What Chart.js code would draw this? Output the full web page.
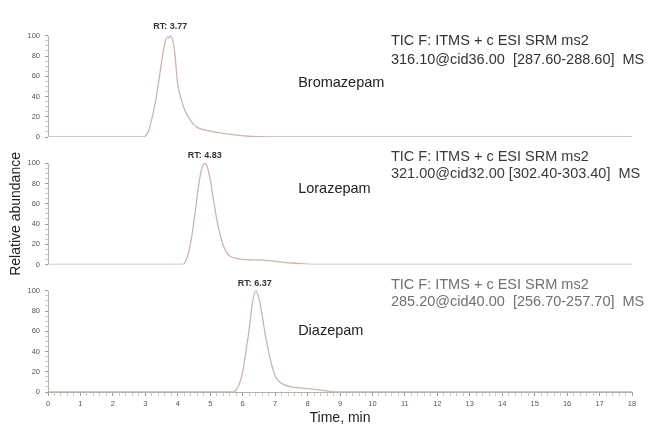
<!DOCTYPE html>
<html>
<head>
<meta charset="utf-8">
<script src="https://cdn.jsdelivr.net/npm/chart.js@4.4.1/dist/chart.umd.min.js"></script>
<style>
  body { margin: 0; background: #fff; }
  canvas { display: block; }
</style>
</head>
<body>
<canvas id="chrom" width="649" height="425"></canvas>
<script>
// chromatogram traces, time in minutes, relative abundance in %
const bromTime = [0, 2.9, 3.0, 3.1, 3.2, 3.3, 3.4, 3.5, 3.6, 3.68, 3.72, 3.77, 3.85, 3.9, 4.0, 4.1, 4.2, 4.3, 4.4, 4.5, 4.6, 4.7, 4.9, 5.2, 5.5, 5.8, 6.1, 6.5, 7.0, 18];
const bromAbund = [0, 0, 1, 6, 18, 33, 52, 74, 92, 99, 98, 100, 95, 85, 52, 38, 28, 21, 16, 12, 9.5, 8, 6.5, 4.5, 3, 2, 1, 0.3, 0, 0];

const loraTime = [0, 4.15, 4.25, 4.35, 4.45, 4.55, 4.65, 4.75, 4.83, 4.9, 5.0, 5.1, 5.2, 5.3, 5.4, 5.5, 5.6, 5.8, 6.0, 6.3, 6.6, 6.9, 7.2, 7.5, 7.8, 8.3, 18];
const loraAbund = [0, 0, 4, 14, 32, 55, 80, 96, 100, 97, 84, 64, 45, 30, 19, 12, 8.5, 6, 5, 4.6, 4.3, 3.5, 2.5, 1.5, 0.8, 0, 0];

const diazTime = [0, 5.7, 5.8, 5.9, 6.0, 6.1, 6.2, 6.3, 6.4, 6.5, 6.6, 6.7, 6.8, 6.9, 7.0, 7.1, 7.3, 7.5, 7.8, 8.1, 8.5, 9.0, 18];
const diazAbund = [0, 0, 2, 8, 20, 40, 62, 88, 100, 93, 76, 56, 40, 26, 16, 11, 7, 5, 4, 3, 1.5, 0, 0];

const compounds = ["Bromazepam", "Lorazepam", "Diazepam"];
const retentionTimes = [3.77, 4.83, 6.37];
const scanLine = "TIC F: ITMS + c ESI SRM ms2";
const transitions = [
  "316.10@cid36.00  [287.60-288.60]  MS",
  "321.00@cid32.00 [302.40-303.40]  MS",
  "285.20@cid40.00  [256.70-257.70]  MS",
];

const traceColor = "#cbb6ae";
const axisColor = "#b8b2ae";
const font = "'Liberation Sans', Arial, sans-serif";

// where the labels sit, in minutes / % of each panel
const panels = [
  { axis: "yTop", rtY: 109, nameY: 53, headY: [95, 76], headColor: "#333" },
  { axis: "yMid", rtY: 108, nameY: 75, headY: [106, 89], headColor: "#3a3a3a" },
  { axis: "yBot", rtY: 107, nameY: 60, headY: [106, 89], headColor: "#707070" },
];
const nameX = 7.71;
const headX = 10.57;

function toPoints(times, values) {
  return times.map((t, i) => ({ x: t, y: values[i] }));
}

function panelAxis(weight) {
  return {
    type: "linear",
    position: "left",
    stack: "panels",
    stackWeight: 1,
    weight: weight,
    min: 0,
    max: 126,
    border: { display: false },
    grid: {
      drawOnChartArea: false,
      drawTicks: true,
      tickLength: 3,
      tickColor: (c) => (c.tick && c.tick.value % 20 === 0 ? "#a09a96" : "#cfc9c6"),
    },
    ticks: {
      stepSize: 5,
      autoSkip: false,
      padding: 5,
      color: "#555",
      font: { family: font, size: 7.5 },
      callback: (v) => (v % 20 === 0 ? v : ""),
    },
    afterBuildTicks: (axis) => {
      axis.ticks = axis.ticks.filter((t) => t.value <= 100);
    },
    afterFit: (axis) => {
      axis.width = 48;
    },
  };
}

const labelPlugin = {
  id: "chromLabels",
  afterDraw(chart) {
    const ctx = chart.ctx;
    const xs = chart.scales.x;
    ctx.save();
    panels.forEach((p, i) => {
      const ys = chart.scales[p.axis];
      // axis line only over 0-100
      ctx.strokeStyle = axisColor;
      ctx.lineWidth = 1;
      ctx.beginPath();
      ctx.moveTo(ys.right + 0.5, ys.getPixelForValue(0));
      ctx.lineTo(ys.right + 0.5, ys.getPixelForValue(100));
      ctx.stroke();

      ctx.textBaseline = "middle";
      ctx.textAlign = "center";
      ctx.fillStyle = "#333";
      ctx.font = "bold 9px " + font;
      ctx.fillText("RT: " + retentionTimes[i].toFixed(2), xs.getPixelForValue(retentionTimes[i]), ys.getPixelForValue(p.rtY));

      ctx.textAlign = "left";
      ctx.fillStyle = "#222";
      ctx.font = "14.5px " + font;
      ctx.fillText(compounds[i], xs.getPixelForValue(nameX), ys.getPixelForValue(p.nameY));

      ctx.fillStyle = p.headColor;
      ctx.fillText(scanLine, xs.getPixelForValue(headX), ys.getPixelForValue(p.headY[0]));
      ctx.fillText(transitions[i], xs.getPixelForValue(headX), ys.getPixelForValue(p.headY[1]));
    });

    // y title centred on the middle panel
    const mid = chart.scales.yMid;
    ctx.translate(16, mid.getPixelForValue(50));
    ctx.rotate(-Math.PI / 2);
    ctx.textAlign = "center";
    ctx.fillStyle = "#222";
    ctx.font = "14px " + font;
    ctx.fillText("Relative abundance", 0, 0);
    ctx.restore();
  },
};

const traces = [
  { data: toPoints(bromTime, bromAbund), yAxisID: "yTop" },
  { data: toPoints(loraTime, loraAbund), yAxisID: "yMid" },
  { data: toPoints(diazTime, diazAbund), yAxisID: "yBot" },
];

new Chart(document.getElementById("chrom"), {
  type: "line",
  data: {
    datasets: traces.map((t) => ({
      data: t.data,
      yAxisID: t.yAxisID,
      borderColor: traceColor,
      borderWidth: 1.3,
      pointRadius: 0,
      fill: false,
      cubicInterpolationMode: "monotone",
    })),
  },
  options: {
    responsive: false,
    animation: false,
    layout: { padding: { top: 5, right: 17, bottom: 0, left: 0 } },
    plugins: { legend: { display: false }, tooltip: { enabled: false } },
    scales: {
      x: {
        type: "linear",
        position: "bottom",
        min: 0,
        max: 18,
        border: { color: axisColor },
        grid: {
          drawOnChartArea: false,
          tickLength: 4,
          tickColor: (c) => (c.tick && Math.abs(c.tick.value - Math.round(c.tick.value)) < 1e-6 ? "#a09a96" : "#cfc9c6"),
        },
        ticks: {
          stepSize: 0.2,
          maxTicksLimit: 1000,
          autoSkip: false,
          maxRotation: 0,
          padding: 3,
          color: "#555",
          font: { family: font, size: 7.5 },
          callback: (v) => (Math.abs(v - Math.round(v)) < 1e-6 ? Math.round(v) : ""),
        },
        title: {
          display: true,
          text: "Time, min",
          color: "#222",
          padding: { top: 0, bottom: -2 },
          font: { family: font, size: 14 },
        },
        afterFit: (axis) => {
          axis.height = 33;
        },
      },
      yTop: panelAxis(3),
      yMid: panelAxis(2),
      yBot: panelAxis(1),
    },
  },
  plugins: [labelPlugin],
});
</script>
</body>
</html>
